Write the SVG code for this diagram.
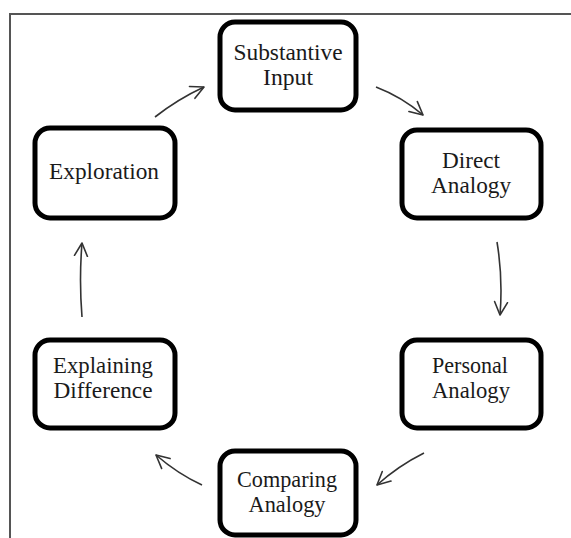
<svg xmlns="http://www.w3.org/2000/svg" width="571" height="538" viewBox="0 0 571 538">
<defs>
<marker id="ah" viewBox="0 0 16 16" refX="14" refY="8" markerWidth="16" markerHeight="16" markerUnits="userSpaceOnUse" orient="auto">
<path d="M1,1.5 L14,8 L1,14.5" fill="none" stroke="#333" stroke-width="1.6" stroke-linecap="round" stroke-linejoin="round"/>
</marker>
<style>
.box{fill:#fff;stroke:#000;stroke-width:5}
.lbl{font-family:"Liberation Serif","Times New Roman",serif;font-size:24px;fill:#1a1a1a;text-anchor:middle}
.con{fill:none;stroke:#333;stroke-width:1.6;marker-end:url(#ah)}
.frame{fill:none;stroke:#555;stroke-width:2}
</style>
</defs>
<rect width="571" height="538" fill="#fff"/>
<path class="frame" d="M10,538 V14 H571"/>
<g id="connectors">
<path class="con" d="M376,87 Q402,97 423,115"/>
<path class="con" d="M497,242 Q503,278 500,315"/>
<path class="con" d="M424,453 Q398,466 377,485"/>
<path class="con" d="M202,485 Q178,474 156,455"/>
<path class="con" d="M82,317 Q79,280 82,243"/>
<path class="con" d="M155,117 Q178,99 204,87"/>
</g>
<g id="substantive-input">
<rect class="box" x="220" y="22" width="136" height="88" rx="15"/>
<text class="lbl" x="288" y="60" textLength="109" lengthAdjust="spacingAndGlyphs">Substantive</text>
<text class="lbl" x="288" y="85" textLength="50" lengthAdjust="spacingAndGlyphs">Input</text>
</g>
<g id="direct-analogy">
<rect class="box" x="402" y="130" width="139" height="88" rx="15"/>
<text class="lbl" x="471" y="168" textLength="58" lengthAdjust="spacingAndGlyphs">Direct</text>
<text class="lbl" x="471" y="193" textLength="80" lengthAdjust="spacingAndGlyphs">Analogy</text>
</g>
<g id="exploration">
<rect class="box" x="35" y="128" width="140" height="90" rx="15"/>
<text class="lbl" x="104" y="179" textLength="110" lengthAdjust="spacingAndGlyphs">Exploration</text>
</g>
<g id="explaining-difference">
<rect class="box" x="35" y="340" width="140" height="88" rx="15"/>
<text class="lbl" x="103" y="373" textLength="100" lengthAdjust="spacingAndGlyphs">Explaining</text>
<text class="lbl" x="103" y="398" textLength="99" lengthAdjust="spacingAndGlyphs">Difference</text>
</g>
<g id="personal-analogy">
<rect class="box" x="402" y="340" width="139" height="88" rx="15"/>
<text class="lbl" x="470" y="373" textLength="76" lengthAdjust="spacingAndGlyphs">Personal</text>
<text class="lbl" x="471" y="398" textLength="78" lengthAdjust="spacingAndGlyphs">Analogy</text>
</g>
<g id="comparing-analogy">
<rect class="box" x="220" y="451" width="136" height="84" rx="15"/>
<text class="lbl" x="287" y="487" textLength="100" lengthAdjust="spacingAndGlyphs">Comparing</text>
<text class="lbl" x="287" y="512" textLength="77" lengthAdjust="spacingAndGlyphs">Analogy</text>
</g>
</svg>
